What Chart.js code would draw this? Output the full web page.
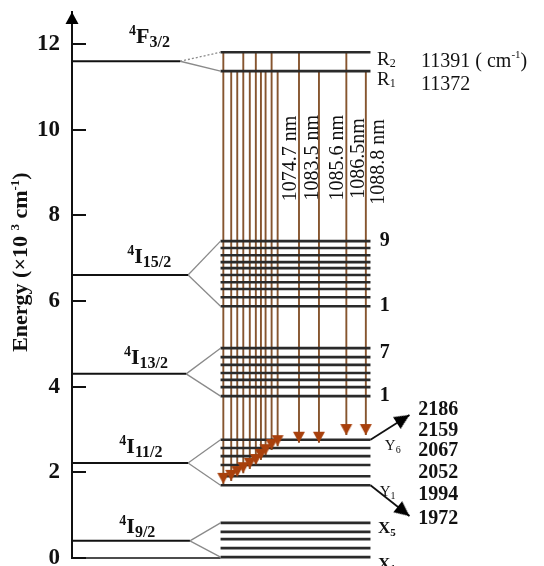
<!DOCTYPE html>
<html><head><meta charset="utf-8">
<script src="https://cdn.jsdelivr.net/npm/chart.js@4.4.1/dist/chart.umd.min.js"></script>
<style>html,body{margin:0;padding:0;background:#fff;}canvas{display:block;}</style>
</head><body>
<canvas id="c" width="544" height="566"></canvas>
<script>
// ---------------- data (energies in 10^3 cm^-1) ----------------
const yTicks = [0, 2, 4, 6, 8, 10, 12];
const manifoldLetter = ['I', 'I', 'I', 'I', 'F'];
const manifoldSub = ['9/2', '11/2', '13/2', '15/2', '3/2'];
const manifoldEnergy = [0.40, 2.22, 4.30, 6.61, 11.60];
const starkI92 = [0.02, 0.23, 0.44, 0.61, 0.82];
const starkI112 = [1.70, 1.91, 2.17, 2.38, 2.57, 2.76];
const starkI132 = [3.78, 3.99, 4.16, 4.32, 4.51, 4.69, 4.90];
const starkI152 = [5.88, 6.09, 6.28, 6.44, 6.61, 6.77, 6.91, 7.07, 7.24, 7.40];
const starkF32 = [11.37, 11.81];
// emission lines: column, start level (R1/R2), end energy
const lineCols = [32.6, 34.3, 35.6, 36.9, 38.3, 39.6, 40.7, 41.7, 43.0, 44.3, 48.9, 53.2, 59.1, 63.3];
const lineFrom = ['R2', 'R1', 'R1', 'R2', 'R1', 'R2', 'R1', 'R1', 'R2', 'R1', 'R2', 'R1', 'R2', 'R1'];
const lineTo = [1.73, 1.80, 1.89, 1.98, 2.08, 2.17, 2.29, 2.40, 2.52, 2.61, 2.69, 2.69, 2.87, 2.87];
const wavelengths = ['1074.7 nm', '1083.5 nm', '1085.6 nm', '1086.5nm', '1088.8 nm'];
const rLabels = ['R', 'R'];
const rSubs = ['1', '2'];
const rValues = ['11372', '11391'];
const rightValues = ['2186', '2159', '2067', '2052', '1994', '1972'];
const rightValueY = [3.46, 2.97, 2.50, 1.98, 1.47, 0.91];
const indexLabels = ['9', '1', '7', '1'];
const indexLabelY = [7.40, 5.88, 4.79, 3.78];
const arrowOutFrom = [2.76, 1.70];
const arrowOutTo = [3.34, 0.98];

// ---------------- layout / style ----------------
const SERIF = '"Liberation Serif", "Times New Roman", serif';
const mainEnd = [25.4, 25.0, 24.6, 25.0, 23.3];
const subStart = 32.0, subEnd = 64.3;
const manLabelX = [10.2, 10.2, 11.2, 11.9, 12.3];
const manLabelLift = [8, 10, 10, 12, 18];
const wlX = [48.3, 53.0, 58.3, 62.9, 67.2];
const wlY = [9.33, 9.35, 9.35, 9.33, 9.25];
const LEVEL = '#2a2a2a', BROWN = '#86552f', HEAD = '#a8400c';

function makeHead(color, len, hw) {
  const s = Math.ceil(len) * 2 + 2;
  const c = document.createElement('canvas');
  c.width = s; c.height = s;
  const g = c.getContext('2d'); const m = s / 2;
  g.fillStyle = color; g.beginPath();
  g.moveTo(m, m); g.lineTo(m - hw, m + len); g.lineTo(m + hw, m + len);
  g.closePath(); g.fill();
  return c;
}
const brownHead = makeHead(HEAD, 11, 6);
const blackHead = makeHead('#000', 15, 7);
const axisHead = makeHead('#000', 12, 6.5);

const lineDs = (pts, color, width, order, dash) => ({
  data: pts, showLine: true, borderColor: color, borderWidth: width, pointRadius: 0,
  borderDash: dash || [], order: order, clip: false, fill: false
});

const starkSets = [starkI92, starkI112, starkI132, starkI152, starkF32];
const datasets = [];
manifoldEnergy.forEach((e, i) => {
  const lv = starkSets[i];
  const lo = Math.min(...lv), hi = Math.max(...lv);
  datasets.push(lineDs([{x: 0, y: e}, {x: mainEnd[i], y: e}], '#111', 2, 2));
  datasets.push(lineDs([{x: mainEnd[i], y: e}, {x: subStart, y: hi}], '#8a8a8a', 1.3, 2, i === 4 ? [2, 2] : []));
  datasets.push(lineDs([{x: mainEnd[i], y: e}, {x: subStart, y: lo}], '#8a8a8a', 1.3, 2));
  lv.forEach(l => datasets.push(lineDs([{x: subStart, y: l}, {x: subEnd, y: l}], LEVEL, 2.6, 2)));
});
// baseline of the axis
datasets.push(lineDs([{x: 0, y: 0}, {x: subStart, y: 0}], '#111', 1.5, 2));
// emission lines
const rEnergy = {R1: starkF32[0], R2: starkF32[1]};
lineCols.forEach((c, i) => {
  datasets.push(lineDs([{x: c, y: rEnergy[lineFrom[i]]}, {x: c, y: lineTo[i]}], BROWN, 1.9, 3));
});
datasets.push({
  data: lineCols.map((c, i) => ({x: c, y: lineTo[i]})), showLine: false,
  pointStyle: brownHead, pointRotation: 180, pointRadius: 5, order: 1, clip: false
});
// outgoing arrows
const rotOf = (ctx) => {
  const xs = ctx.chart.scales.x, ys = ctx.chart.scales.y, d = ctx.dataset.data;
  const dx = xs.getPixelForValue(d[1].x) - xs.getPixelForValue(d[0].x);
  const dy = ys.getPixelForValue(d[1].y) - ys.getPixelForValue(d[0].y);
  return Math.atan2(dx, -dy) * 180 / Math.PI;
};
arrowOutFrom.forEach((f, i) => {
  const ds = lineDs([{x: subEnd, y: f}, {x: 72.7, y: arrowOutTo[i]}], '#111', 1.8, 1);
  ds.pointStyle = blackHead; ds.pointRadius = [0, 6]; ds.pointRotation = rotOf;
  datasets.push(ds);
});
// axis arrow head
datasets.push({data: [{x: 0, y: 12.75}], showLine: false, pointStyle: axisHead, pointRadius: 6, order: 0, clip: false});

function rich(ctx, x, y, parts, align) {
  let w = 0;
  parts.forEach(p => { ctx.font = p[2] + ' ' + p[1] + 'px ' + SERIF; w += ctx.measureText(p[0]).width; });
  let cx = align === 'center' ? x - w / 2 : (align === 'right' ? x - w : x);
  ctx.textAlign = 'left'; ctx.textBaseline = 'alphabetic';
  parts.forEach(p => {
    ctx.font = p[2] + ' ' + p[1] + 'px ' + SERIF;
    ctx.fillText(p[0], cx, y + p[3]);
    cx += ctx.measureText(p[0]).width;
  });
}

const textPlugin = {
  id: 'texts',
  afterDatasetsDraw(chart) {
    const ctx = chart.ctx, xs = chart.scales.x, ys = chart.scales.y;
    const X = v => xs.getPixelForValue(v), Y = v => ys.getPixelForValue(v);
    ctx.save();
    ctx.fillStyle = '#111';
    manifoldEnergy.forEach((e, i) => {
      rich(ctx, X(manLabelX[i]), Y(e) - manLabelLift[i],
        [['4', 14, 'bold', -8], [manifoldLetter[i], 22, 'bold', 0], [manifoldSub[i], 16, 'bold', 4]]);
    });
    // R levels
    const rLift = [14, 13], vLift = [19, 15];
    starkF32.forEach((e, i) => {
      rich(ctx, X(65.7), Y(e) + rLift[i], [[rLabels[i], 19, 'normal', 0], [rSubs[i], 12, 'normal', 2]]);
      const parts = [[rValues[i], 20, 'normal', 0]];
      if (i === 1) parts.push([' ( cm', 20, 'normal', 0], ['-1', 11, 'normal', -9], [')', 20, 'normal', 0]);
      rich(ctx, X(75.2), Y(e) + vLift[i], parts);
    });
    // wavelengths (rotated)
    wavelengths.forEach((t, i) => {
      ctx.save();
      ctx.translate(X(wlX[i]), Y(wlY[i]));
      ctx.rotate(-Math.PI / 2);
      rich(ctx, 0, 0, [[t, 20, 'normal', 0]], 'center');
      ctx.restore();
    });
    // index labels
    indexLabels.forEach((t, i) => {
      ctx.font = 'bold 20px ' + SERIF; ctx.textAlign = 'left'; ctx.textBaseline = 'middle';
      ctx.fillText(t, X(66.3), Y(indexLabelY[i]));
    });
    // right values
    rightValues.forEach((t, i) => {
      ctx.font = 'bold 20px ' + SERIF; ctx.textAlign = 'left'; ctx.textBaseline = 'middle';
      ctx.fillText(t, X(74.6), Y(rightValueY[i]));
    });
    // Y / X labels
    rich(ctx, X(67.4), Y(starkI112[5]) + 10, [['Y', 15, 'normal', 0], ['6', 10, 'normal', 3]]);
    rich(ctx, X(66.3), Y(starkI112[0]) + 11, [['Y', 15, 'normal', 0], ['1', 10, 'normal', 3]]);
    rich(ctx, X(65.9), Y(starkI92[4]) + 10, [['X', 17, 'bold', 0], ['5', 11, 'bold', 3]]);
    rich(ctx, X(65.9), Y(starkI92[0]) + 12, [['X', 17, 'bold', 0], ['1', 11, 'bold', 3]]);
    // axis title
    ctx.save();
    ctx.translate(chart.scales.y.left + 23, Y(6.91));
    ctx.rotate(-Math.PI / 2);
    rich(ctx, 0, 4, [['Energy (\u00d710 ', 22, 'bold', 0], ['3', 13, 'bold', -8], [' cm', 22, 'bold', 0], ['-1', 13, 'bold', -8], [')', 22, 'bold', 0]], 'center');
    ctx.restore();
    ctx.restore();
  }
};

const chart = new Chart(document.getElementById('c').getContext('2d'), {
  type: 'scatter',
  data: {datasets: datasets},
  options: {
    responsive: false, animation: false, events: [],
    layout: {padding: {left: 0, right: 0, top: 12, bottom: 8}},
    plugins: {legend: {display: false}, tooltip: {enabled: false}},
    scales: {
      x: {type: 'linear', display: false, min: 0, max: 100},
      y: {
        type: 'linear', min: 0, max: 12.75,
        afterBuildTicks: s => { s.ticks = yTicks.map(v => ({value: v})); },
        afterFit: s => { s.width = 72; s.paddingTop = 0; s.paddingBottom = 0; s.paddingLeft = 0; s.paddingRight = 0; },
        grid: {drawOnChartArea: false, drawTicks: true, tickLength: -14, color: '#111', lineWidth: 2},
        border: {display: true, color: '#111', width: 2},
        ticks: {padding: 26, color: '#111', font: {family: SERIF, size: 23, weight: 'bold'}}
      }
    }
  },
  plugins: [textPlugin]
});
</script>
</body></html>
